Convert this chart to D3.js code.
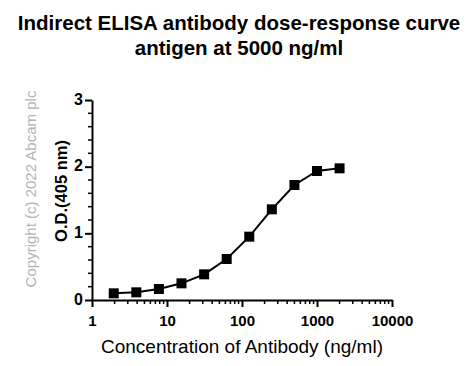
<html>
<head>
    <meta charSet="utf-8">
    <title>Indirect ELISA</title>
    <script src="https://d3js.org/d3.v7.min.js"></script>
    <style>
        body { margin: 0; background: #fff; }
        text { font-family: "Liberation Sans", Arial, sans-serif; }
    </style>
</head>
<body>
<svg id="chart"></svg>
<script>
    const concentrations = [1.95, 3.9, 7.8, 15.6, 31.25, 62.5, 125, 250, 500, 1000, 2000];
    const od = [0.10, 0.115, 0.165, 0.25, 0.385, 0.615, 0.95, 1.36, 1.725, 1.935, 1.975];
    const xTicks = [1, 10, 100, 1000, 10000];
    const yTicks = [0, 1, 2, 3];

    const width = 476, height = 366;
    const plotLeft = 92, plotRight = 392, plotTop = 100, plotBottom = 300;

    const svg = d3.select("#chart")
        .attr("width", width)
        .attr("height", height);

    const x = d3.scaleLog().domain([1, 10000]).range([plotLeft, plotRight]);
    const y = d3.scaleLinear().domain([0, 3]).range([plotBottom, plotTop]);

    // title
    svg.append("text")
        .attr("x", 239).attr("y", 30)
        .attr("text-anchor", "middle")
        .attr("font-size", 20.5).attr("font-weight", "bold")
        .text("Indirect ELISA antibody dose-response curve");
    svg.append("text")
        .attr("x", 239).attr("y", 55)
        .attr("text-anchor", "middle")
        .attr("font-size", 20.5).attr("font-weight", "bold")
        .text("antigen at 5000 ng/ml");

    // minor ticks
    const xMinor = [];
    for (let d = 1; d < 10000; d *= 10)
        for (let k = 2; k <= 9; k++) xMinor.push(d * k);
    svg.append("g").selectAll("line").data(xMinor).join("line")
        .attr("x1", d => x(d)).attr("x2", d => x(d))
        .attr("y1", plotBottom).attr("y2", plotBottom + 4)
        .attr("stroke", "#000").attr("stroke-width", 1.5);

    const yMinor = d3.range(0, 3.01, 0.2).filter(v => Math.abs(v - Math.round(v)) > 0.01);
    svg.append("g").selectAll("line").data(yMinor).join("line")
        .attr("x1", plotLeft - 4).attr("x2", plotLeft)
        .attr("y1", d => y(d)).attr("y2", d => y(d))
        .attr("stroke", "#000").attr("stroke-width", 1.5);

    // axes
    const xAxis = svg.append("g")
        .attr("transform", `translate(0,${plotBottom})`)
        .call(d3.axisBottom(x).tickValues(xTicks).tickSize(7).tickSizeOuter(0).tickFormat(d3.format("d")));
    xAxis.select(".domain").attr("stroke-width", 2);
    xAxis.selectAll(".tick line").attr("stroke-width", 2);
    xAxis.selectAll(".tick text").attr("font-size", 15).attr("font-weight", "bold")
        .attr("fill", "#000").attr("dy", "1.05em");

    const yAxis = svg.append("g")
        .attr("transform", `translate(${plotLeft},0)`)
        .call(d3.axisLeft(y).tickValues(yTicks).tickSize(7).tickSizeOuter(0).tickFormat(d3.format("d")));
    yAxis.select(".domain").attr("stroke-width", 2);
    yAxis.selectAll(".tick line").attr("stroke-width", 2);
    yAxis.selectAll(".tick text").attr("font-size", 16).attr("font-weight", "bold")
        .attr("fill", "#000").attr("x", -9).attr("dy", "0.25em");

    // axis titles
    svg.append("text")
        .attr("x", 242).attr("y", 353)
        .attr("text-anchor", "middle")
        .attr("font-size", 19)
        .text("Concentration of Antibody (ng/ml)");
    svg.append("text")
        .attr("transform", "translate(67,191) rotate(-90)")
        .attr("text-anchor", "middle")
        .attr("font-size", 16.5).attr("font-weight", "bold")
        .text("O.D.(405 nm)");
    svg.append("text")
        .attr("transform", "translate(36,189) rotate(-90)")
        .attr("text-anchor", "middle")
        .attr("font-size", 15).attr("fill", "#b4b4b4")
        .text("Copyright (c) 2022 Abcam plc");

    // data
    const pts = concentrations.map((c, i) => [c, od[i]]);
    svg.append("path")
        .datum(pts)
        .attr("fill", "none").attr("stroke", "#000").attr("stroke-width", 2)
        .attr("d", d3.line().x(d => x(d[0])).y(d => y(d[1])));
    svg.append("g").selectAll("rect").data(pts).join("rect")
        .attr("x", d => x(d[0]) - 5).attr("y", d => y(d[1]) - 5)
        .attr("width", 10).attr("height", 10)
        .attr("fill", "#000");
</script>
</body>
</html>
